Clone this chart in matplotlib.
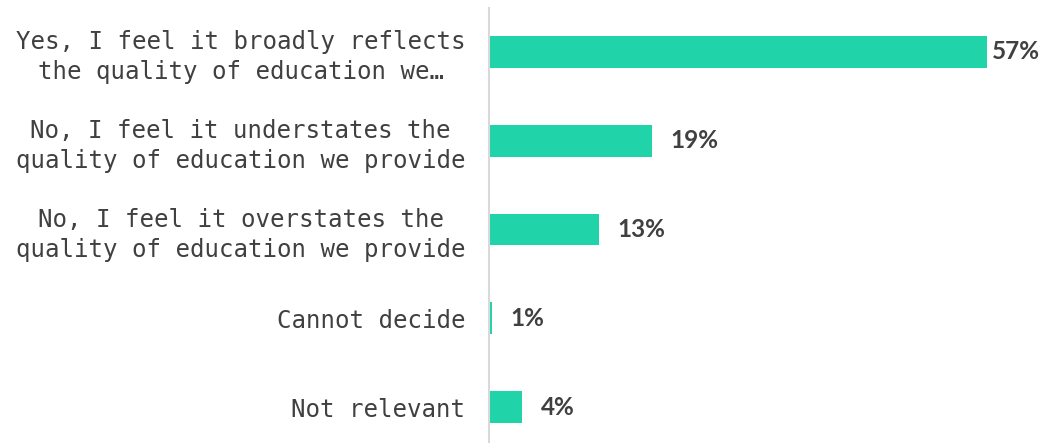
import matplotlib
matplotlib.use("Agg")
import matplotlib.pyplot as plt

categories = [
    "Yes, I feel it broadly reflects\nthe quality of education we…",
    "No, I feel it understates the\nquality of education we provide",
    "No, I feel it overstates the\nquality of education we provide",
    "Cannot decide",
    "Not relevant",
]
values = [57, 18.7, 12.6, 0.35, 3.8]
value_labels = ["57%", "19%", "13%", "1%", "4%"]

bar_color = "#21D3A9"
text_color = "#404040"

fig = plt.figure(figsize=(10.57, 4.43), dpi=100)
ax = fig.add_axes([489 / 1057, -8.5 / 443, 568 / 1057, 444 / 443])

y = list(range(len(categories)))
ax.barh(y, values, height=0.36, color=bar_color)
ax.set_xlim(0, 65)
ax.set_ylim(len(categories) - 0.5, -0.5)

# labels sit ~18px past the bar end, but can't run past the right edge
for yi, v, lab in zip(y, values, value_labels):
    ax.text(min(v + 2.1, 57.6), yi, lab, va="center", ha="left", fontsize=17.5,
            fontweight="bold", family="Lato", color=text_color)

ax.set_yticks(y)
ax.set_yticklabels(categories, family="DejaVu Sans Mono", fontsize=17.4,
                   color=text_color, linespacing=1.3)
for t in ax.get_yticklabels():
    t.set_multialignment("center")
ax.tick_params(axis="y", length=0, pad=17)
ax.set_xticks([])

for s in ["top", "right", "bottom"]:
    ax.spines[s].set_visible(False)
ax.spines["left"].set_color("#d9d9d9")
ax.spines["left"].set_linewidth(1.5)

fig.savefig("out.png", dpi=100)
